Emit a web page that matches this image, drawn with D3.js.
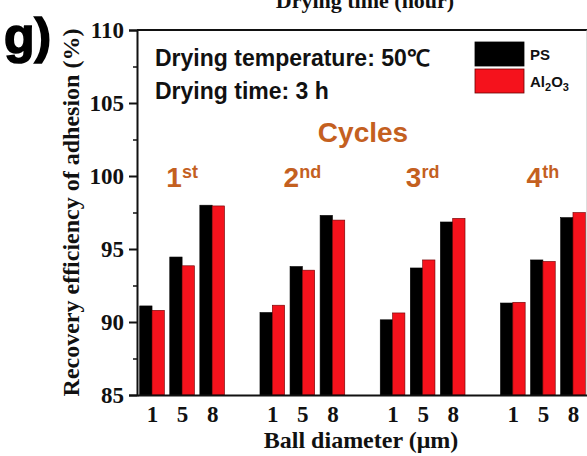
<!DOCTYPE html>
<html>
<head>
<meta charset="utf-8">
<script src="https://cdn.jsdelivr.net/npm/d3@7"></script>
<style>
  html, body { margin: 0; padding: 0; background: #fff; }
  svg { display: block; }
</style>
</head>
<body>
<svg id="chart" width="587" height="456"></svg>
<script>
// Recovery efficiency of adhesion for four drying cycles, PS vs Al2O3 balls
const cycles = ["1", "2", "3", "4"];
const cycleSuffix = ["st", "nd", "rd", "th"];
const diameters = ["1", "5", "8"];
const psValues = [
  91.1, 94.45, 98.0,
  90.65, 93.8, 97.3,
  90.15, 93.7, 96.85,
  91.3, 94.25, 97.15
];
const al2o3Values = [
  90.8, 93.85, 97.95,
  91.15, 93.55, 96.98,
  90.62, 94.25, 97.1,
  91.35, 94.15, 97.5
];
const yTicks = [85, 90, 95, 100, 105, 110];
const yMinorTicks = [87.5, 92.5, 97.5, 102.5, 107.5];
const seriesNames = ["PS", "Al2O3"];

const serif = "'Liberation Serif', 'Times New Roman', serif";
const sans = "'Liberation Sans', Arial, sans-serif";
const orange = "#c4601f";
const red = "#f5121c";

const svg = d3.select("#chart");

const margin = { left: 137, right: 588, top: 30, bottom: 395 };

// slot index for each bar pair: one empty slot between cycles
const slots = [];
cycles.forEach((c, ci) => diameters.forEach((d, di) => slots.push(ci * 4 + di)));

const x = d3.scaleLinear().domain([-0.5, 14.5]).range([margin.left, margin.right]);
const y = d3.scaleLinear().domain([85, 110]).range([margin.bottom, margin.top]);
const slotW = x(1) - x(0);
const barW = slotW * 0.41;

// bars
const bars = svg.append("g");
slots.forEach((s, i) => {
  const cx = x(s);
  bars.append("rect")
    .attr("x", cx - barW).attr("width", barW)
    .attr("y", y(psValues[i])).attr("height", y(85) - y(psValues[i]))
    .attr("fill", "#000").attr("stroke", "#000").attr("stroke-width", 0.6);
  bars.append("rect")
    .attr("x", cx).attr("width", barW)
    .attr("y", y(al2o3Values[i])).attr("height", y(85) - y(al2o3Values[i]))
    .attr("fill", red).attr("stroke", "#6a0000").attr("stroke-width", 0.6);
});

// frame lines
svg.append("line").attr("x1", margin.left).attr("x2", margin.right)
  .attr("y1", margin.top).attr("y2", margin.top)
  .attr("stroke", "#111").attr("stroke-width", 2);
svg.append("line").attr("x1", margin.right - 1).attr("x2", margin.right - 1)
  .attr("y1", margin.top).attr("y2", margin.bottom)
  .attr("stroke", "#bbb").attr("stroke-width", 1);

// y axis
const yAxis = d3.axisLeft(y).tickValues(yTicks).tickSize(8).tickPadding(5)
  .tickFormat(d3.format("d"));
const gy = svg.append("g").attr("transform", `translate(${margin.left},0)`).call(yAxis);
gy.select(".domain").attr("stroke", "#111").attr("stroke-width", 2);
gy.selectAll(".tick line").attr("stroke", "#111").attr("stroke-width", 2);
gy.selectAll(".tick text").attr("font-family", serif).attr("font-weight", "bold")
  .attr("font-size", 23).attr("fill", "#111");
const gyMinor = svg.append("g").attr("transform", `translate(${margin.left},0)`)
  .call(d3.axisLeft(y).tickValues(yMinorTicks).tickSize(4).tickFormat(""));
gyMinor.select(".domain").remove();
gyMinor.selectAll(".tick line").attr("stroke", "#111").attr("stroke-width", 1.5);

// x axis
const xAxis = d3.axisBottom(x).tickValues(slots).tickSize(0).tickPadding(11)
  .tickFormat((d, i) => diameters[i % 3]);
const gx = svg.append("g").attr("transform", `translate(0,${margin.bottom})`).call(xAxis);
gx.select(".domain").attr("stroke", "#111").attr("stroke-width", 2);
gx.selectAll(".tick text").attr("font-family", serif).attr("font-weight", "bold")
  .attr("font-size", 23).attr("fill", "#111");

// axis titles
svg.append("text")
  .attr("transform", `translate(79,${(margin.top + margin.bottom) / 2}) rotate(-90)`)
  .attr("text-anchor", "middle")
  .attr("font-family", serif).attr("font-weight", "bold").attr("font-size", 24)
  .attr("fill", "#111")
  .text("Recovery efficiency of adhesion (%)");

svg.append("text")
  .attr("x", 361).attr("y", 448).attr("text-anchor", "middle")
  .attr("font-family", serif).attr("font-weight", "bold").attr("font-size", 24)
  .attr("fill", "#111")
  .text("Ball diameter (\u03bcm)");

// title of the panel above, partly cut off at the top
svg.append("text")
  .attr("x", 365).attr("y", 8).attr("text-anchor", "middle")
  .attr("font-family", serif).attr("font-weight", "bold").attr("font-size", 22)
  .attr("fill", "#111")
  .text("Drying time (hour)");

// panel letter
svg.append("text")
  .attr("x", 4).attr("y", 53)
  .attr("font-family", sans).attr("font-weight", "900").attr("font-size", 50)
  .attr("fill", "#000").attr("stroke", "#000").attr("stroke-width", 1.6)
  .text("g)");

// drying conditions
svg.append("text")
  .attr("x", 155).attr("y", 66)
  .attr("font-family", sans).attr("font-weight", "bold").attr("font-size", 23)
  .attr("fill", "#111")
  .text("Drying temperature: 50\u2103");
svg.append("text")
  .attr("x", 155).attr("y", 99)
  .attr("font-family", sans).attr("font-weight", "bold").attr("font-size", 23)
  .attr("fill", "#111")
  .text("Drying time: 3 h");

// legend
const legend = svg.append("g");
const legendColors = ["#000", red];
const legendStroke = ["#000", "#6a0000"];
seriesNames.forEach((name, i) => {
  const ly = 42 + i * 27;
  legend.append("rect").attr("x", 475).attr("y", ly).attr("width", 49).attr("height", 24)
    .attr("fill", legendColors[i]).attr("stroke", legendStroke[i]).attr("stroke-width", 0.8);
  const t = legend.append("text").attr("x", 530).attr("y", ly + 18)
    .attr("font-family", sans).attr("font-weight", "bold").attr("font-size", 15)
    .attr("fill", "#111");
  if (name === "Al2O3") {
    t.append("tspan").text("Al");
    t.append("tspan").attr("font-size", 11).attr("dy", 4).text("2");
    t.append("tspan").attr("dy", -4).text("O");
    t.append("tspan").attr("font-size", 11).attr("dy", 4).text("3");
  } else {
    t.text(name);
  }
});

// cycle labels
svg.append("text")
  .attr("x", 363).attr("y", 142).attr("text-anchor", "middle")
  .attr("font-family", sans).attr("font-weight", "bold").attr("font-size", 28)
  .attr("fill", orange)
  .text("Cycles");

cycles.forEach((c, ci) => {
  const cx = x(ci * 4 + 1);
  const t = svg.append("text")
    .attr("x", cx).attr("y", 187).attr("text-anchor", "middle")
    .attr("font-family", sans).attr("font-weight", "bold").attr("font-size", 28)
    .attr("fill", orange);
  t.append("tspan").text(c);
  t.append("tspan").attr("font-size", 18).attr("dy", -9).text(cycleSuffix[ci]);
});
</script>
</body>
</html>
